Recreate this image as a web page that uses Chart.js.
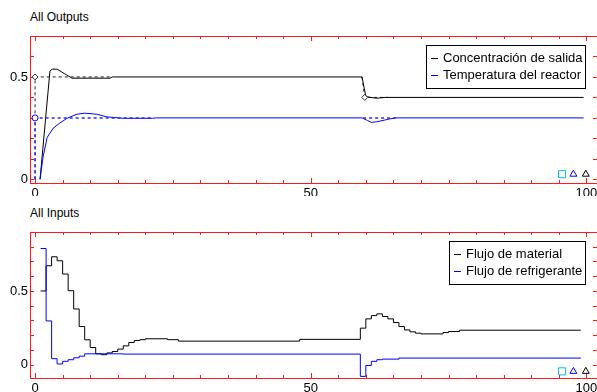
<!DOCTYPE html>
<html>
<head>
<meta charset="utf-8">
<script src="https://cdn.jsdelivr.net/npm/chart.js@4"></script>
<style>
    body { margin: 0; background: #fff; overflow: hidden; }
    #wrap { position: relative; width: 597px; height: 392px; overflow: hidden; }
    .panel-title { position: absolute; left: 30px; font: 12px "Liberation Sans", Arial, sans-serif; line-height: 14px; color: #000; }
    canvas { position: absolute; left: 0; }
</style>
</head>
<body>
<div id="wrap">
    <div class="panel-title" style="top:10px">All Outputs</div>
    <canvas id="outputsChart" width="603" height="196" style="top:0;width:603px;height:196px"></canvas>
    <div class="panel-title" style="top:206px">All Inputs</div>
    <canvas id="inputsChart" width="603" height="196" style="top:196px;width:603px;height:196px"></canvas>
</div>
<script>
// Data

// Outputs - Concentración de salida (black)
const concTime  = [0.9, 2.7, 3.1, 4.0, 5.4, 6.7, 13.6, 14.0, 59.3, 60.0, 60.8, 62.0, 63.5, 99.5];
const concValue = [0, 0.53, 0.538, 0.538, 0.515, 0.494, 0.494, 0.5, 0.5, 0.405, 0.4, 0.396, 0.4, 0.4];
// Outputs - Temperatura del reactor (blue)
const tempTime  = [0.9, 1.45, 2.2, 3.3, 4.5, 5.8, 7.6, 9.0, 11.2, 13.0, 16.0, 21.3, 22.0, 59.3, 60.3, 61.0, 62.0, 63.5, 64.5, 65.5, 99.5];
const tempValue = [0, 0.11, 0.205, 0.25, 0.275, 0.298, 0.318, 0.323, 0.318, 0.305, 0.298, 0.298, 0.3, 0.3, 0.287, 0.278, 0.281, 0.29, 0.296, 0.3, 0.3];

// Dashed setpoint traces (null = gap)
const concRefTime  = [0, 0, 14, 14, 59.3, 59.8, 64];
const concRefValue = [0, 0.5, 0.5, null, 0.5, 0.4, 0.4];
const tempRefTime  = [0, 0, 21.5, 21.5, 59.5, 65.5];
const tempRefValue = [0, 0.3, 0.3, null, 0.3, 0.3];

// Setpoint markers
const concMarkTime  = [0, 59.8];
const concMarkValue = [0.5, 0.4];
const tempMarkTime  = [0];
const tempMarkValue = [0.3];

// Inputs - Flujo de material (black, zero-order hold)
const matTime  = [1, 2, 3, 4, 5, 6, 7, 8, 9, 10, 11, 12, 13, 14, 15, 16, 17, 18, 19, 20, 24, 26, 48,
                  59, 60, 61, 62, 63, 64, 65, 66, 67, 68, 69, 70, 74, 75, 77, 99];
const matValue = [0.5, 0.671, 0.732, 0.705, 0.615, 0.502, 0.378, 0.259, 0.169, 0.117, 0.074, 0.068, 0.08, 0.09,
                  0.106, 0.128, 0.151, 0.164, 0.17, 0.176, 0.17, 0.16, 0.172,
                  0.248, 0.311, 0.333, 0.345, 0.327, 0.311, 0.286, 0.259, 0.236, 0.223, 0.214, 0.209, 0.218, 0.225, 0.234, 0.234];
// Inputs - Flujo de refrigerante (blue, zero-order hold)
const refTime  = [1, 2, 3, 4, 5, 6, 7, 8, 9, 16, 59, 60, 61, 62, 63, 66, 99];
const refValue = [0.788, 0.297, 0.041, 0.005, 0.023, 0.034, 0.047, 0.058, 0.074, 0.072,
                  -0.079, -0.005, 0.023, 0.034, 0.038, 0.045, 0.045];

// Status icons bottom right (square, triangle, triangle)
const statusTime = [95.6, 97.65, 99.9];
const statusOutY = [0.025, 0.025, 0.025];
const statusInY  = [-0.045, -0.045, -0.045];

// Axis labels
const xLabels = [0, 50, 100];
const yLabels = [0, 0.5];

const FONT = '"Liberation Sans", Arial, sans-serif';
Chart.defaults.font.family = FONT;
Chart.defaults.font.size = 13;
Chart.defaults.color = '#000';

const pairs = (ts, vs) => ts.map((t, i) => ({ x: t, y: vs[i] }));

// --- Plugins ---
// Red frame with inward ticks (drawn under the data)
const redFrame = {
    id: 'redFrame',
    beforeDatasetsDraw(chart) {
        const { ctx, chartArea: a, scales: { x, y } } = chart;
        ctx.save();
        ctx.strokeStyle = '#ff1a1a';
        ctx.lineWidth = 1;
        ctx.beginPath();
        for (let v = 0; v <= x.max; v += 5) {
            const px = Math.round(x.getPixelForValue(v)) + 0.5;
            const len = v % 50 === 0 ? 5 : 3;
            ctx.moveTo(px, a.top); ctx.lineTo(px, a.top + len);
            ctx.moveTo(px, a.bottom); ctx.lineTo(px, a.bottom - len);
        }
        for (let k = 0; k * 0.1 < y.max; k++) {
            const py = Math.round(y.getPixelForValue(k * 0.1)) + 0.5;
            if (py < a.top + 2) continue;
            ctx.moveTo(a.left, py); ctx.lineTo(a.left + 4, py);
            ctx.moveTo(a.right, py); ctx.lineTo(a.right - 4, py);
        }
        ctx.stroke();
        ctx.strokeRect(a.left + 0.5, a.top + 0.5, a.right - a.left, a.bottom - a.top);
        ctx.restore();
    }
};

// Boxed legend top-right
const boxLegend = {
    id: 'boxLegend',
    afterDraw(chart) {
        const items = chart.data.datasets.filter(ds => ds.inLegend);
        const { ctx, chartArea: a } = chart;
        ctx.save();
        ctx.font = '13px ' + FONT;
        const textW = Math.max(...items.map(ds => ctx.measureText(ds.label).width));
        const w = Math.round(textW + 20), h = 43;
        const left = a.right - 12 - w, top = a.top + 9;
        ctx.fillStyle = '#fff';
        ctx.fillRect(left, top, w, h);
        ctx.strokeStyle = '#000';
        ctx.lineWidth = 1;
        ctx.strokeRect(left + 0.5, top + 0.5, w, h);
        items.forEach((ds, i) => {
            const yy = top + 13 + i * 17;
            ctx.strokeStyle = ds.borderColor;
            ctx.beginPath();
            ctx.moveTo(left + 5, yy + 0.5);
            ctx.lineTo(left + 12, yy + 0.5);
            ctx.stroke();
            ctx.fillStyle = '#000';
            ctx.textBaseline = 'middle';
            ctx.fillText(ds.label, left + 17, yy);
        });
        ctx.restore();
    }
};

// --- Chart builder ---
function makePanel(canvasId, datasets, yMin, yMax, xHeight) {
    return new Chart(document.getElementById(canvasId), {
        type: 'scatter',
        data: { datasets },
        options: {
            responsive: false,
            animation: false,
            events: [],
            layout: { padding: { top: 36, right: 4, left: 0, bottom: 0 } },
            plugins: { legend: { display: false }, tooltip: { enabled: false } },
            scales: {
                x: {
                    type: 'linear', min: -0.92, max: 101.93,
                    grid: { display: false, drawTicks: false },
                    border: { display: false },
                    afterBuildTicks: s => { s.ticks = xLabels.map(v => ({ value: v })); },
                    afterFit: s => { s.height = xHeight; },
                    ticks: { padding: 3, maxRotation: 0, autoSkip: false, callback: v => String(v) }
                },
                y: {
                    type: 'linear', min: yMin, max: yMax,
                    grid: { display: false, drawTicks: false },
                    border: { display: false },
                    afterBuildTicks: s => { s.ticks = yLabels.map(v => ({ value: v })); },
                    afterFit: s => { s.width = 30; },
                    ticks: { padding: 2, callback: v => String(v) }
                }
            }
        },
        plugins: [redFrame, boxLegend]
    });
}

const lineSet = (label, pts, color, extra) => Object.assign({
    label, data: pts, showLine: true, borderColor: color, backgroundColor: color,
    borderWidth: 1, pointRadius: 0, fill: false
}, extra || {});

const statusSet = yVals => ({
    data: pairs(statusTime, yVals), showLine: false,
    pointStyle: ['rect', 'triangle', 'triangle'],
    pointRadius: [5, 4, 4],
    pointBorderColor: ['#00b8f0', '#0000ff', '#000000'],
    pointBackgroundColor: '#fff', pointBorderWidth: 1, order: 0
});

// Outputs panel
makePanel('outputsChart', [
    lineSet('Concentración de salida', pairs(concTime, concValue), '#000000', { inLegend: true, order: 3 }),
    lineSet('Temperatura del reactor', pairs(tempTime, tempValue), '#0000ff', { inLegend: true, order: 2 }),
    lineSet('', pairs(concRefTime, concRefValue), '#222222', { borderDash: [3, 3], order: 4 }),
    lineSet('', pairs(tempRefTime, tempRefValue), '#2a2aff', { borderDash: [3, 3], borderWidth: 1.5, order: 1 }),
    { data: pairs(concMarkTime, concMarkValue), pointStyle: 'rectRot', pointRadius: 3,
      pointBorderColor: '#333', pointBackgroundColor: '#fff', pointBorderWidth: 1, order: 0 },
    { data: pairs(tempMarkTime, tempMarkValue), pointStyle: 'circle', pointRadius: 3,
      pointBorderColor: '#0000ff', pointBackgroundColor: '#fff', pointBorderWidth: 1, order: 0 },
    statusSet(statusOutY)
], -0.018, 0.70, 13);

// Inputs panel
makePanel('inputsChart', [
    lineSet('Flujo de material', pairs(matTime, matValue), '#000000', { inLegend: true, stepped: true, order: 2 }),
    lineSet('Flujo de refrigerante', pairs(refTime, refValue), '#0000ff', { inLegend: true, stepped: true, order: 1 }),
    statusSet(statusInY)
], -0.09, 0.9, 14);
</script>
</body>
</html>
